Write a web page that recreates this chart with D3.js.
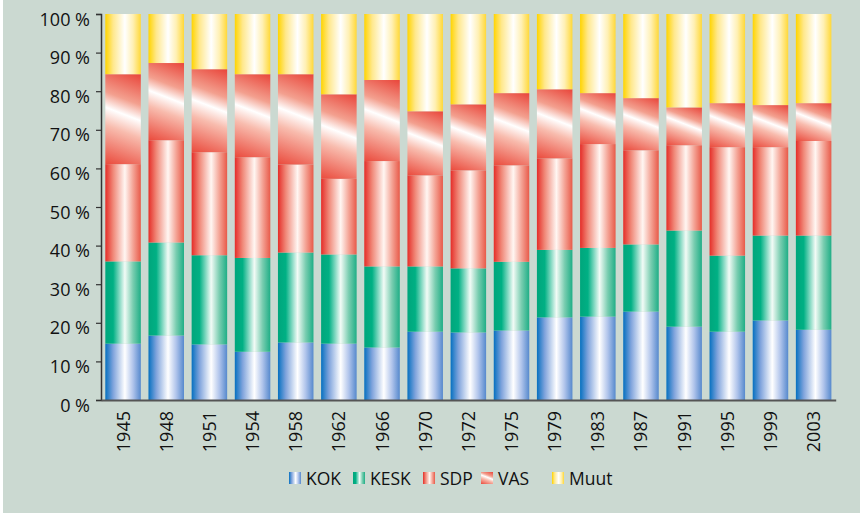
<!DOCTYPE html>
<html>
<head>
<meta charset="utf-8">
<script src="https://cdn.jsdelivr.net/npm/d3@7"></script>
<style>
  html, body { margin: 0; padding: 0; background: #fff; }
  svg text { font-family: "Open Sans", "Noto Sans", sans-serif; fill: #111; }
</style>
</head>
<body>
<div id="chart"></div>
<script>
// election years and party shares (%)
const years = ["1945","1948","1951","1954","1958","1962","1966","1970","1972","1975","1979","1983","1987","1991","1995","1999","2003"];
const kok  = [14.6,16.7,14.4,12.5,14.9,14.6,13.6,17.7,17.5,18.0,21.4,21.6,22.9,19.0,17.7,20.6,18.2];
const kesk = [21.3,24.1,23.1,24.3,23.3,23.1,21.0,16.9,16.6,17.8,17.5,17.8,17.4,24.9,19.7,22.0,24.4];
const sdp  = [25.2,26.5,26.7,26.1,22.8,19.6,27.3,23.6,25.4,25.0,23.7,26.9,24.4,22.1,28.1,22.9,24.5];
const vas  = [23.3,20.0,21.5,21.5,23.4,21.9,21.0,16.6,17.1,18.7,17.9,13.2,13.5, 9.8,11.4,10.9, 9.8];
const muut = [15.6,12.7,14.3,15.6,15.6,20.8,17.1,25.2,23.4,20.5,19.5,20.5,21.8,24.2,23.1,23.6,23.1];
const parties = ["KOK","KESK","SDP","VAS","Muut"];
const yTicks = [0,10,20,30,40,50,60,70,80,90,100];

const W = 860, H = 513;
const svg = d3.select("#chart").append("svg").attr("width", W).attr("height", H);
svg.append("rect").attr("width", W).attr("height", H).attr("fill", "#cbd9d1");
svg.append("rect").attr("width", 3).attr("height", H).attr("fill", "#ffffff");

const defs = svg.append("defs");
// horizontal "tube" gradients, one per party (VAS gets diagonal ones per segment)
const tube = {
  KOK:  ["#0570c0","#7fa3dc","#ffffff","#b0c4eb","#5689cd"],
  KESK: ["#00a67c","#00b084","#f2fbf6","#79cdb0","#1fae86"],
  SDP:  ["#e52d28","#f08878","#fff6f2","#f4a496","#e85a49"],
  Muut: ["#ffd400","#ffe88c","#ffffff","#fff0b4","#ffd838"]
};
const offs = [0, 0.22, 0.55, 0.78, 1];
Object.keys(tube).forEach(k => {
  const g = defs.append("linearGradient").attr("id", "g-" + k)
    .attr("x1", 0).attr("y1", 0).attr("x2", 1).attr("y2", 0);
  tube[k].forEach((c, i) => g.append("stop").attr("offset", offs[i]).attr("stop-color", c));
});
const vasStops = [[0,"#e9453a"],[0.3,"#f3a08f"],[0.45,"#ffffff"],[0.62,"#f8bcae"],[1,"#ea4a3c"]];
const ux = -0.36, uy = 0.933; // direction of the VAS gradient
let vasCount = 0;
function vasGrad(x, y, w, h) {
  const id = "vas" + (vasCount++);
  const cx = x + w / 2, cy = y + h / 2;
  const ext = (w * Math.abs(ux) + h * uy) / 2;
  const g = defs.append("linearGradient").attr("id", id).attr("gradientUnits", "userSpaceOnUse")
    .attr("x1", cx - ux * ext).attr("y1", cy - uy * ext)
    .attr("x2", cx + ux * ext).attr("y2", cy + uy * ext);
  vasStops.forEach(s => g.append("stop").attr("offset", s[0]).attr("stop-color", s[1]));
  return "url(#" + id + ")";
}

const table = years.map((yr, i) => ({ year: yr, KOK: kok[i], KESK: kesk[i], SDP: sdp[i], VAS: vas[i], Muut: muut[i] }));
const series = d3.stack().keys(parties)(table);

const x = d3.scaleBand().domain(years).range([101, 835.7]).paddingInner(0.177).paddingOuter(0.1);
const y = d3.scaleLinear().domain([0, 100]).range([400, 14]);

// bars
series.forEach(s => {
  svg.append("g").selectAll("rect").data(s).enter().append("rect")
    .attr("x", d => x(d.data.year))
    .attr("y", d => y(d[1]))
    .attr("width", x.bandwidth())
    .attr("height", d => y(d[0]) - y(d[1]))
    .attr("fill", d => s.key === "VAS"
      ? vasGrad(x(d.data.year), y(d[1]), x.bandwidth(), y(d[0]) - y(d[1]))
      : "url(#g-" + s.key + ")");
});

// y axis
const yAxis = svg.append("g").attr("transform", "translate(101,0)")
  .call(d3.axisLeft(y).tickValues(yTicks).tickSize(5).tickFormat(d => d + " %"));
yAxis.select(".domain").attr("stroke", "#333").attr("stroke-width", 1.5);
yAxis.selectAll(".tick line").attr("stroke", "#333").attr("stroke-width", 1.2);
yAxis.selectAll(".tick text").attr("x", -11).attr("dy", 11)
  .style("font-size", "18px").style("font-family", "'Open Sans', sans-serif");

// x axis
const xAxis = svg.append("g").attr("transform", "translate(0,400)")
  .call(d3.axisBottom(x).tickSize(0).tickSizeOuter(0));
xAxis.select(".domain").attr("stroke", "#555").attr("stroke-width", 2);
xAxis.selectAll(".tick text")
  .attr("transform", "rotate(-90)")
  .attr("x", -11).attr("y", 0).attr("dy", "0.36em")
  .attr("text-anchor", "end")
  .style("font-size", "18px").style("font-family", "'Open Sans', sans-serif");

// legend
const legX = [289, 353, 423, 481, 552];
const leg = svg.append("g");
parties.forEach((p, i) => {
  const fill = p === "VAS" ? vasGrad(legX[i], 472, 12, 12) : "url(#g-" + p + ")";
  leg.append("rect").attr("x", legX[i]).attr("y", 472).attr("width", 12).attr("height", 12).attr("fill", fill);
  leg.append("text").attr("x", legX[i] + 17).attr("y", 484.5)
    .style("font-size", "17.5px").text(p);
});
</script>
</body>
</html>
